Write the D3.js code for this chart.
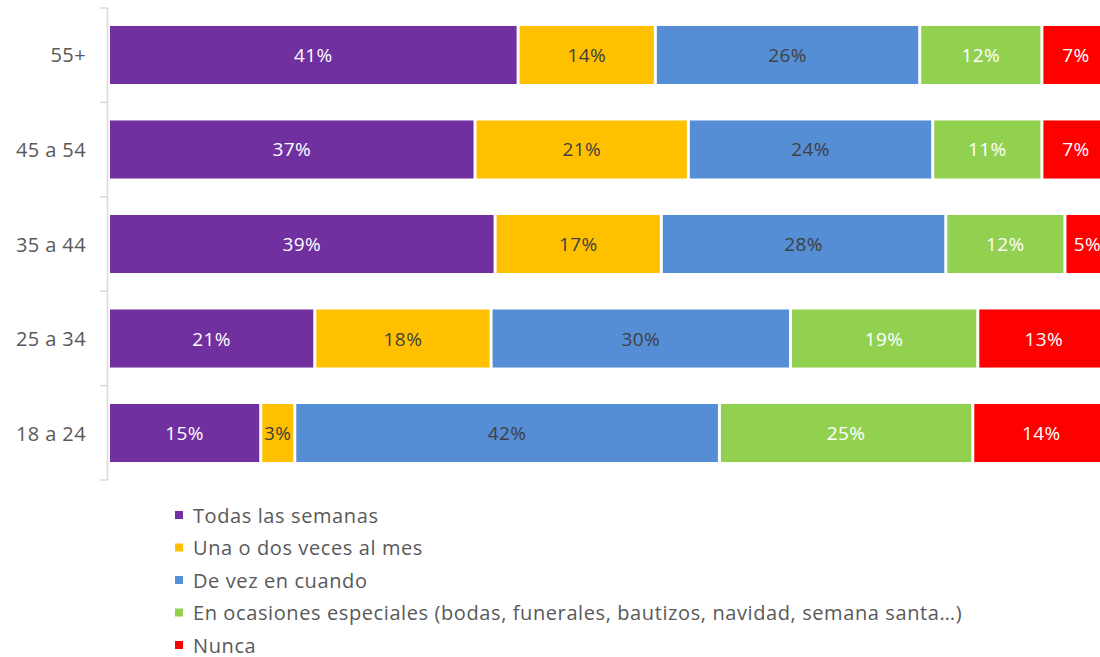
<!DOCTYPE html>
<html>
<head>
<meta charset="utf-8">
<script src="https://cdn.jsdelivr.net/npm/d3@7"></script>
<style>
  html, body { margin: 0; padding: 0; background: #fff; }
  svg { display: block; }
  text { font-family: "Open Sans", sans-serif; }
</style>
</head>
<body>
<svg id="chart" width="1100" height="657"></svg>
<script>
// ---- Data ----
const categories = ["55+", "45 a 54", "35 a 44", "25 a 34", "18 a 24"];
const seriesNames = [
  "Todas las semanas",
  "Una o dos veces al mes",
  "De vez en cuando",
  "En ocasiones especiales (bodas, funerales, bautizos, navidad, semana santa…)",
  "Nunca"
];
const todasLasSemanas = [40.9, 36.6, 38.6, 20.6, 15.2];
const unaODosVeces    = [13.7, 21.3, 16.6, 17.6, 3.4];
const deVezEnCuando   = [26.4, 24.4, 28.4, 29.9, 42.4];
const ocasiones       = [12.2, 10.9, 11.9, 18.7, 25.3];
const nunca           = [6.8, 6.8, 4.5, 13.2, 13.7];
const seriesValues = [todasLasSemanas, unaODosVeces, deVezEnCuando, ocasiones, nunca];

const colors = ["#7030A0", "#FFC000", "#558ED5", "#92D050", "#FF0000"];
const labelColors = ["#ffffff", "#404040", "#404040", "#ffffff", "#ffffff"];

// ---- Build table ----
const keys = seriesNames.map((d, i) => "s" + i);
const table = categories.map((c, ci) => {
  const row = { cat: c };
  keys.forEach((k, si) => row[k] = seriesValues[si][ci]);
  return row;
});
const stacked = d3.stack().keys(keys)(table);

const svg = d3.select("#chart");

const x = d3.scaleLinear().domain([0, 100]).range([108.5, 1110]);
const y = d3.scaleBand().domain(categories).range([8, 480]).paddingInner(0.386).paddingOuter(0.19);

// Axis line and ticks
const axisG = svg.append("g");
axisG.append("line")
  .attr("x1", 107.5).attr("x2", 107.5)
  .attr("y1", 8).attr("y2", 480)
  .attr("stroke", "#d9d9d9").attr("stroke-width", 1.5);
const boundaries = d3.range(categories.length + 1).map(i => 8 + i * (472 / categories.length));
axisG.selectAll("line.tick").data(boundaries).join("line")
  .attr("class", "tick")
  .attr("x1", 100).attr("x2", 107.5)
  .attr("y1", d => d).attr("y2", d => d)
  .attr("stroke", "#d9d9d9").attr("stroke-width", 1.5);

// Category labels
svg.append("g").selectAll("text").data(categories).join("text")
  .attr("x", 86)
  .attr("y", d => y(d) + y.bandwidth() / 2)
  .attr("text-anchor", "end")
  .attr("dominant-baseline", "central")
  .attr("fill", "#595959")
  .attr("font-size", 20)
  .attr("letter-spacing", 0.4)
  .text(d => d);

// Bars
const gap = 1.5;
const layers = svg.append("g").selectAll("g").data(stacked).join("g")
  .attr("fill", (d, i) => colors[i]);
layers.selectAll("rect").data(d => d).join("rect")
  .attr("x", d => x(d[0]) + gap)
  .attr("y", d => y(d.data.cat))
  .attr("width", d => Math.max(0, x(d[1]) - x(d[0]) - 2 * gap))
  .attr("height", y.bandwidth());

// Bar labels
const labelLayers = svg.append("g").selectAll("g").data(stacked).join("g")
  .attr("fill", (d, i) => labelColors[i]);
labelLayers.selectAll("text").data(d => d).join("text")
  .attr("x", d => (x(d[0]) + x(d[1])) / 2)
  .attr("y", d => y(d.data.cat) + y.bandwidth() / 2)
  .attr("text-anchor", "middle")
  .attr("dominant-baseline", "central")
  .attr("font-size", 19)
  .attr("letter-spacing", 0.4)
  .text(d => Math.round(d[1] - d[0]) + "%");

// Legend
const legend = svg.append("g").selectAll("g").data(seriesNames).join("g")
  .attr("transform", (d, i) => `translate(0, ${515 + i * 32.5})`);
legend.append("rect")
  .attr("x", 175).attr("y", -4).attr("width", 8).attr("height", 8)
  .attr("fill", (d, i) => colors[i]);
legend.append("text")
  .attr("x", 193).attr("y", 0)
  .attr("dominant-baseline", "central")
  .attr("fill", "#595959")
  .attr("font-size", 20)
  .attr("letter-spacing", 0.6)
  .text(d => d);
</script>
</body>
</html>
